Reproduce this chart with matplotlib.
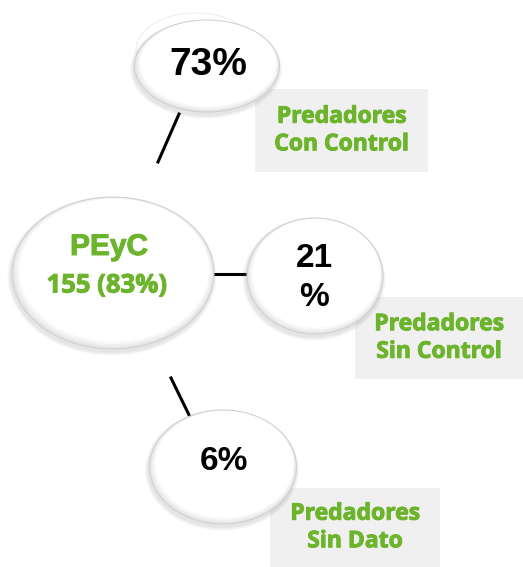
import matplotlib.pyplot as plt
import matplotlib.patheffects as pe
from matplotlib.patches import Ellipse, Rectangle

# datos
centro_nombre = "PEyC"
centro_n = 155
centro_pct = 83
porcentajes = ["73%", "21\n%", "6%"]
etiquetas = ["Predadores\nCon Control", "Predadores\nSin Control", "Predadores\nSin Dato"]

verde = "#6cb42b"
gris_caja = "#f0f0f0"
fuente_verde = "Open Sans"
grueso = [pe.withStroke(linewidth=0.7, foreground=verde)]

fig = plt.figure(figsize=(5.23, 5.67), dpi=100)
ax = fig.add_axes([0, 0, 1, 1])
ax.set_xlim(0, 523)
ax.set_ylim(567, 0)
ax.axis("off")

# posiciones en pixeles (x, y, ancho, alto)
burbujas = [(207, 66, 145, 92), (315, 276, 136, 116), (223, 467, 147, 114)]
centro = (113, 273, 202, 152)
cajas = [(255, 89, 173, 83), (355, 297, 168, 82), (270, 488, 170, 79)]
lineas = [((179, 114), (158, 162)), ((214, 274), (249, 274)), ((171, 378), (190, 417))]


def burbuja(cx, cy, w, h, z):
    # sombra difusa abajo a la izquierda
    for i in range(6):
        d = (6 - i) * 1.2
        ax.add_patch(Ellipse((cx - 1, cy + 3), w + d, h + d, facecolor="#999999",
                             edgecolor="none", alpha=0.045, zorder=z))
    # leve sombreado en el borde
    tonos = ["#e4e4e4", "#efefef", "#f7f7f7", "#ffffff"]
    for k, c in enumerate(tonos):
        s = 1 - k * 0.02
        ax.add_patch(Ellipse((cx + k * 0.4, cy - k * 0.9), w * s, h * s, facecolor=c,
                             edgecolor="none", zorder=z + 0.1))
    ax.add_patch(Ellipse((cx, cy), w, h, facecolor="none", edgecolor="#cfcfcf",
                         lw=0.7, zorder=z + 0.2))


for (p0, p1) in lineas:
    ax.plot([p0[0], p1[0]], [p0[1], p1[1]], color="black", lw=2.2, zorder=1)

for (x, y, w, h), txt in zip(cajas, etiquetas):
    ax.add_patch(Rectangle((x, y), w, h, facecolor=gris_caja, edgecolor="none", zorder=0.5))
    ax.text(x + w / 2, y + h / 2, txt, ha="center", va="center", color=verde,
            fontsize=16.5, fontweight="bold", family=fuente_verde, linespacing=1.2,
            path_effects=grueso, zorder=5)

# elipse fantasma detras de 73%
ax.add_patch(Ellipse((196, 50), 120, 74, facecolor="white", edgecolor="#ececec",
                     lw=0.7, zorder=1.5))

burbuja(*centro, z=2)
for (cx, cy, w, h) in burbujas:
    burbuja(cx, cy, w, h, z=2)

ax.text(109, 247, centro_nombre, ha="center", va="center", color=verde,
        fontsize=21.5, fontweight="bold", family="Liberation Sans",
        path_effects=grueso, zorder=5)
ax.text(107, 285, f"{centro_n} ({centro_pct}%)", ha="center", va="center", color=verde,
        fontsize=18.5, fontweight="bold", family=fuente_verde,
        path_effects=grueso, zorder=5)

ax.text(208, 65, porcentajes[0], ha="center", va="center", fontsize=28,
        fontweight="bold", family="Liberation Sans", zorder=5)
ax.text(314, 278, porcentajes[1], ha="center", va="center", fontsize=24,
        fontweight="bold", family="Liberation Sans", linespacing=1.35, zorder=5)
ax.text(224, 461, porcentajes[2], ha="center", va="center", fontsize=24,
        fontweight="bold", family="Liberation Sans", zorder=5)

fig.savefig("out.png", dpi=100)
